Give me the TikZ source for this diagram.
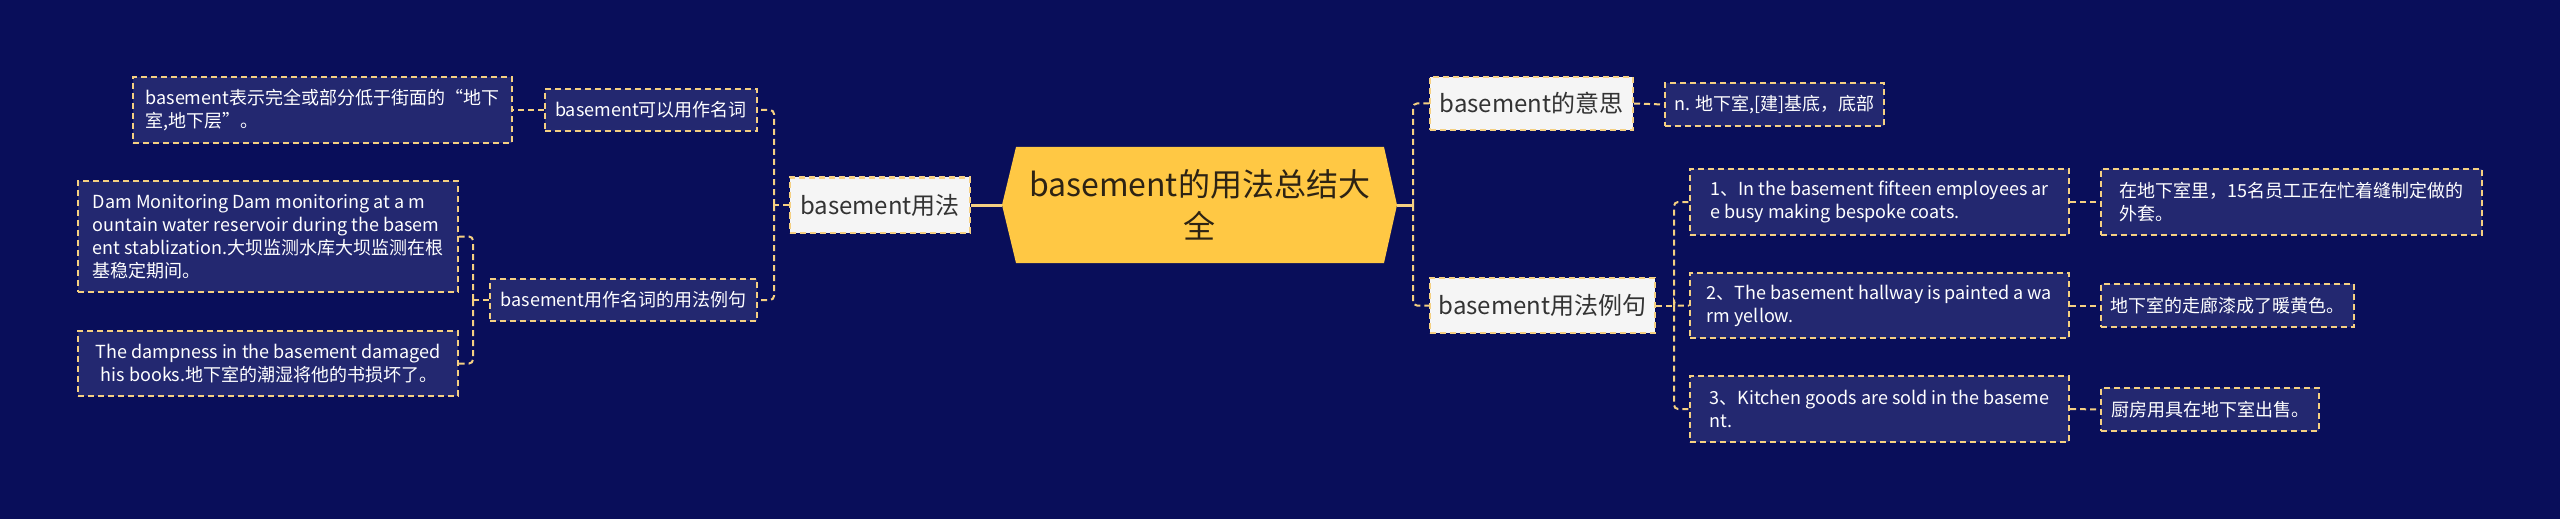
\documentclass[tikz,border=0pt]{standalone}
\usepackage{fontspec}
\setmainfont{Noto Sans CJK SC}
\usepackage{tikz}
\definecolor{MindNavy}{RGB}{9,14,90}
\definecolor{MindBox}{RGB}{35,40,112}
\definecolor{MindGold}{RGB}{255,200,68}
\definecolor{MindLine}{RGB}{245,208,130}
\definecolor{MindPaper}{RGB}{245,245,245}
\definecolor{MindInk}{RGB}{51,51,51}
\definecolor{MindDark}{RGB}{45,35,20}

\begin{document}
\begin{tikzpicture}[x=0.5pt,y=-0.5pt,
    link/.style={draw=MindLine, line width=1pt, dash pattern=on 3pt off 2pt, rounded corners=2pt},
    rootlink/.style={draw=MindLine, line width=1.5pt},
    mainbox/.style={draw=MindLine, fill=MindPaper, text=MindInk, line width=1pt, dash pattern=on 3pt off 2pt, font=\fontsize{12}{15}\selectfont, inner sep=0pt},
    leafbox/.style={draw=MindLine, fill=MindBox, text=white, line width=1pt, dash pattern=on 3pt off 2pt, font=\fontsize{9}{11.5}\selectfont, align=left, inner xsep=3.5pt, inner ysep=2pt}
  ]
    \useasboundingbox (0,0) rectangle (2560,519);
    \fill[MindNavy] (0,0) rectangle (2560,519);
    \fill[MindGold] (1002,205) -- (1016,147) -- (1384,147) -- (1397,205) -- (1384,263) -- (1016,263) -- cycle;
    \node[minimum width=197.5pt, minimum height=58pt, align=center, text=MindDark, font=\fontsize{16}{21}\selectfont] (root) at (1199.5,205) {basement的用法总结大\\全};
    \node[mainbox, minimum width=90pt, minimum height=27.5pt] (usage) at (880,205) {basement用法};
    \node[leafbox, minimum width=106pt, minimum height=21pt] (noun) at (651,110) {basement可以用作名词};
    \node[leafbox, minimum width=133.5pt, minimum height=21pt] (nounex) at (623.5,300) {basement用作名词的用法例句};
    \node[leafbox, minimum width=189.5pt, minimum height=33pt] (nounmean) at (322.5,110) {basement表示完全或部分低于街面的“地下\\室,地下层”。};
    \node[leafbox, minimum width=190pt, minimum height=55.5pt] (dam) at (268,236.5) {Dam Monitoring Dam monitoring at a m\\ountain water reservoir during the basem\\ent stablization.大坝监测水库大坝监测在根\\基稳定期间。};
    \node[leafbox, minimum width=190pt, minimum height=32.5pt] (damp) at (268,363.5) {The dampness in the basement damaged\\\hspace{0.3em}his books.地下室的潮湿将他的书损坏了。};
    \node[mainbox, minimum width=101.5pt, minimum height=26.5pt] (meaning) at (1531.5,103.5) {basement的意思};
    \node[leafbox, minimum width=109.5pt, minimum height=21.5pt] (def) at (1774.5,104.5) {n. 地下室,[建]基底，底部};
    \node[mainbox, minimum width=112.5pt, minimum height=27.5pt] (examples) at (1542.5,305.5) {basement用法例句};
    \node[leafbox, minimum width=189.5pt, minimum height=33pt] (ex1) at (1879.5,202) {1、In the basement fifteen employees ar\\e busy making bespoke coats.};
    \node[leafbox, minimum width=189.5pt, minimum height=32.5pt] (ex2) at (1879.5,305.5) {2、The basement hallway is painted a wa\\rm yellow.};
    \node[leafbox, minimum width=189.5pt, minimum height=33pt] (ex3) at (1879.5,409) {3、Kitchen goods are sold in the baseme\\nt.};
    \node[leafbox, minimum width=190.5pt, minimum height=33pt] (tr1) at (2291.5,202) {在地下室里，15名员工正在忙着缝制定做的\\外套。};
    \node[leafbox, minimum width=126.5pt, minimum height=21.5pt] (tr2) at (2227.5,305.5) {地下室的走廊漆成了暖黄色。};
    \node[leafbox, minimum width=109pt, minimum height=21.5pt] (tr3) at (2210,409.5) {厨房用具在地下室出售。};
    \coordinate (busU) at (774,205);
    \coordinate (busE) at (473,300);
    \coordinate (busR) at (1413,205);
    \coordinate (busX) at (1674,305.5);
    \draw[rootlink] (root.west) -- (usage.east);
    \draw[rootlink] (root.east) -- (busR);
    \draw[link] (usage.west) -- (busU);
    \draw[link] (busU) |- (noun.east);
    \draw[link] (busU) |- (nounex.east);
    \draw[link] (noun.west) -- (nounmean.east);
    \draw[link] (nounex.west) -- (busE);
    \draw[link] (busE) |- (dam.east);
    \draw[link] (busE) |- (damp.east);
    \draw[link] (busR) |- (meaning.west);
    \draw[link] (busR) |- (examples.west);
    \draw[link] (meaning.east) -- (def.west);
    \draw[link] (examples.east) -- (busX);
    \foreach \i in {1,2,3} {
      \draw[link] (busX) |- (ex\i.west);
      \draw[link] (ex\i.east) -- (tr\i.west);
    }
  \end{tikzpicture}
\end{document}
